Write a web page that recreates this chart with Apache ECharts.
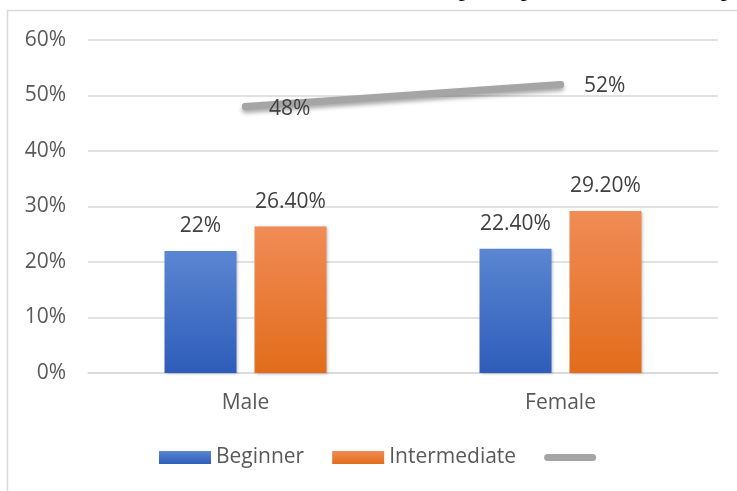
<!DOCTYPE html>
<html>
<head>
<meta charset="utf-8">
<title>Beginner / Intermediate by gender</title>
<script src="https://cdn.jsdelivr.net/npm/echarts@6.0.0/dist/echarts.min.js"></script>
<style>
    html, body { margin: 0; padding: 0; background: #ffffff; }
    #chart { width: 737px; height: 491px; }
</style>
</head>
<body>
<div id="chart"></div>
<script>
// 图表数据
const categories = ['Male', 'Female']
const beginnerValues = [22, 22.4]
const intermediateValues = [26.4, 29.2]
const totalValues = [48, 52]
const yTicks = [0, 10, 20, 30, 40, 50, 60]

const textColor = '#595959'
const labelColor = '#404040'
const fontFamily = '"Open Sans", "Noto Sans", sans-serif'
const fontSize = 21

// 22 -> 22%, 26.4 -> 26.40%
function pctLabel(params) {
    let v = params.value
    return Number.isInteger(v) ? v + '%' : v.toFixed(2) + '%'
}

function gradient(top, bottom) {
    return new echarts.graphic.LinearGradient(0, 0, 0, 1, [
        { offset: 0, color: top },
        { offset: 1, color: bottom }
    ])
}

// 上方被截断的标题文字（只露出字母 p 的下半部）
function cutLetter(x) {
    return {
        type: 'text',
        x: x,
        y: 2,
        silent: true,
        style: {
            text: 'p',
            font: '26px "Liberation Serif", serif',
            fill: '#000',
            align: 'center',
            verticalAlign: 'bottom'
        }
    }
}

let myChart = echarts.init(document.getElementById('chart'))

let option = {
    backgroundColor: '#ffffff',
    animation: false,
    textStyle: { fontFamily: fontFamily },
    graphic: [
        // 图表外框（右侧和下方超出画面）
        {
            type: 'rect',
            shape: { x: 7.5, y: 10.5, width: 800, height: 600 },
            style: { fill: 'none', stroke: '#d9d9d9', lineWidth: 1.5 },
            silent: true
        },
        cutLetter(465),
        cutLetter(527),
        cutLetter(727)
    ],
    grid: {
        left: 88,
        right: 19,
        top: 40,
        bottom: 118,
        containLabel: false,
        outerBoundsMode: 'none'
    },
    legend: {
        left: 159,
        top: 447,
        padding: 0,
        itemWidth: 52,
        itemHeight: 13,
        itemGap: 28,
        textStyle: { fontSize: fontSize, color: textColor, fontFamily: fontFamily },
        data: [
            { name: 'Beginner', icon: 'rect' },
            { name: 'Intermediate', icon: 'rect' },
            { name: ' ', icon: 'path://M3.5,0 L48.5,0 A3.5,3.5 0 0 1 48.5,7 L3.5,7 A3.5,3.5 0 0 1 3.5,0 Z' }
        ]
    },
    xAxis: {
        type: 'category',
        data: categories,
        axisTick: { show: false },
        axisLine: { lineStyle: { color: '#d9d9d9', width: 1.5 } },
        axisLabel: { fontSize: fontSize, color: textColor, margin: 20 }
    },
    yAxis: {
        type: 'value',
        min: yTicks[0],
        max: yTicks[yTicks.length - 1],
        interval: 10,
        axisLine: { show: false },
        axisTick: { show: false },
        axisLabel: { fontSize: fontSize, color: textColor, margin: 22, formatter: '{value}%' },
        splitLine: { lineStyle: { color: '#d9d9d9', width: 1.5 } }
    },
    series: [
        {
            name: 'Beginner',
            type: 'bar',
            data: beginnerValues,
            barWidth: 72,
            barGap: '25%',
            itemStyle: {
                color: gradient('#5b86d2', '#2e5cba'),
                shadowColor: 'rgba(0,0,0,0.25)',
                shadowBlur: 3,
                shadowOffsetX: 1,
                shadowOffsetY: 1
            },
            label: { show: true, position: 'top', distance: 14, fontSize: fontSize, color: labelColor, formatter: pctLabel }
        },
        {
            name: 'Intermediate',
            type: 'bar',
            data: intermediateValues,
            barWidth: 72,
            itemStyle: {
                color: gradient('#f08c56', '#e26c1b'),
                shadowColor: 'rgba(0,0,0,0.25)',
                shadowBlur: 3,
                shadowOffsetX: 1,
                shadowOffsetY: 1
            },
            label: { show: true, position: 'top', distance: 14, fontSize: fontSize, color: labelColor, formatter: pctLabel }
        },
        {
            name: ' ',
            type: 'line',
            data: totalValues,
            z: 5,
            color: '#a5a5a5',
            symbol: 'circle',
            symbolSize: 7,
            showSymbol: true,
            itemStyle: { color: '#a5a5a5', borderWidth: 0 },
            lineStyle: {
                color: '#a5a5a5',
                width: 7,
                cap: 'round',
                shadowColor: 'rgba(0,0,0,0.35)',
                shadowBlur: 4,
                shadowOffsetY: 3
            },
            label: { show: true, position: 'right', distance: 20, offset: [0, 2], fontSize: fontSize, color: labelColor, formatter: pctLabel }
        }
    ]
}

myChart.setOption(option)

window.addEventListener('resize', function () {
    myChart.resize()
})
</script>
</body>
</html>
